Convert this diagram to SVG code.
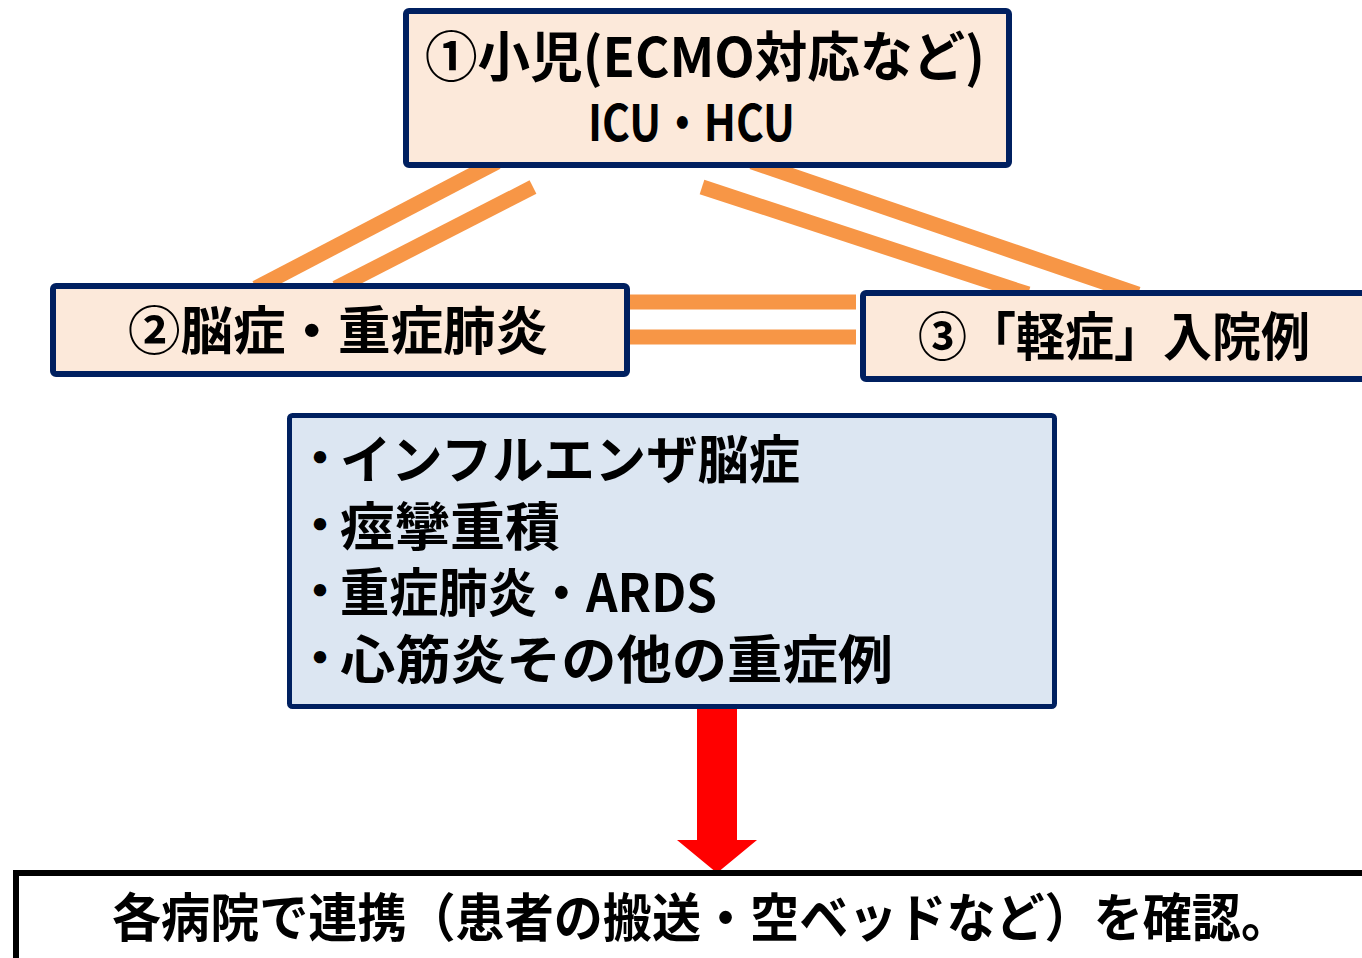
<svg xmlns="http://www.w3.org/2000/svg" width="1362" height="958" viewBox="0 0 1362 958">
<style>
.t{font-family:"Noto Sans CJK JP","Noto Sans",sans-serif;font-weight:bold;fill:#000}
.b{font-family:"Noto Sans CJK JP","Noto Sans",sans-serif;font-weight:900;fill:#000;font-size:44px}
.peach{fill:#FCE9DA;stroke:#002060;stroke-width:6}
.blue{fill:#DCE6F2;stroke:#002060;stroke-width:5}
.ln{stroke:#F79646;stroke-width:15;stroke-linecap:butt;fill:none}
</style>
<rect width="1362" height="958" fill="#fff"/>
<g id="connectors">
<line class="ln" x1="497" y1="162" x2="256" y2="288"/>
<line class="ln" x1="533" y1="187" x2="336" y2="288"/>
<line class="ln" x1="752" y1="162" x2="1138" y2="294"/>
<line class="ln" x1="702" y1="187" x2="1028" y2="294"/>
<line class="ln" x1="627" y1="302" x2="856" y2="302"/>
<line class="ln" x1="627" y1="337" x2="856" y2="337"/>
<polygon points="697,706 737,706 737,840 757,840 717,873 677,840 697,840" fill="#FF0000"/>
</g>
<g id="node1">
<rect class="peach" x="406" y="11" width="603" height="154" rx="3"/>
<text class="t" x="425" y="77" font-size="54" textLength="560" lengthAdjust="spacingAndGlyphs">①小児(ECMO対応など)</text>
<text class="t" x="588" y="141" font-size="50" textLength="207" lengthAdjust="spacingAndGlyphs">ICU・HCU</text>
</g>
<g id="node2">
<rect class="peach" x="53" y="286" width="574" height="88" rx="3"/>
<text class="t" x="128" y="350" font-size="52" textLength="420" lengthAdjust="spacingAndGlyphs">②脳症・重症肺炎</text>
</g>
<g id="node3">
<rect class="peach" x="863" y="293" width="510" height="86" rx="3"/>
<text class="t" x="918" y="356" font-size="52" textLength="392" lengthAdjust="spacingAndGlyphs">③「軽症」入院例</text>
</g>
<g id="node4">
<rect class="blue" x="289.5" y="415.5" width="765" height="291" rx="3"/>
<text class="b" x="298" y="474">・</text>
<text class="t" x="340" y="479" font-size="52" textLength="460" lengthAdjust="spacingAndGlyphs">インフルエンザ脳症</text>
<text class="b" x="298" y="541">・</text>
<text class="t" x="340" y="546" font-size="52" textLength="220" lengthAdjust="spacingAndGlyphs">痙攣重積</text>
<text class="b" x="298" y="607">・</text>
<text class="t" x="340" y="612" font-size="52" textLength="377" lengthAdjust="spacingAndGlyphs">重症肺炎・ARDS</text>
<text class="b" x="298" y="674">・</text>
<text class="t" x="340" y="679" font-size="52" textLength="553" lengthAdjust="spacingAndGlyphs">心筋炎その他の重症例</text>
</g>
<g id="node5">
<rect x="16" y="873" width="1360" height="100" fill="#fff" stroke="#000" stroke-width="6"/>
<text class="t" x="112" y="937" font-size="52" textLength="1178" lengthAdjust="spacingAndGlyphs">各病院で連携（患者の搬送・空ベッドなど）を確認。</text>
</g>
</svg>
